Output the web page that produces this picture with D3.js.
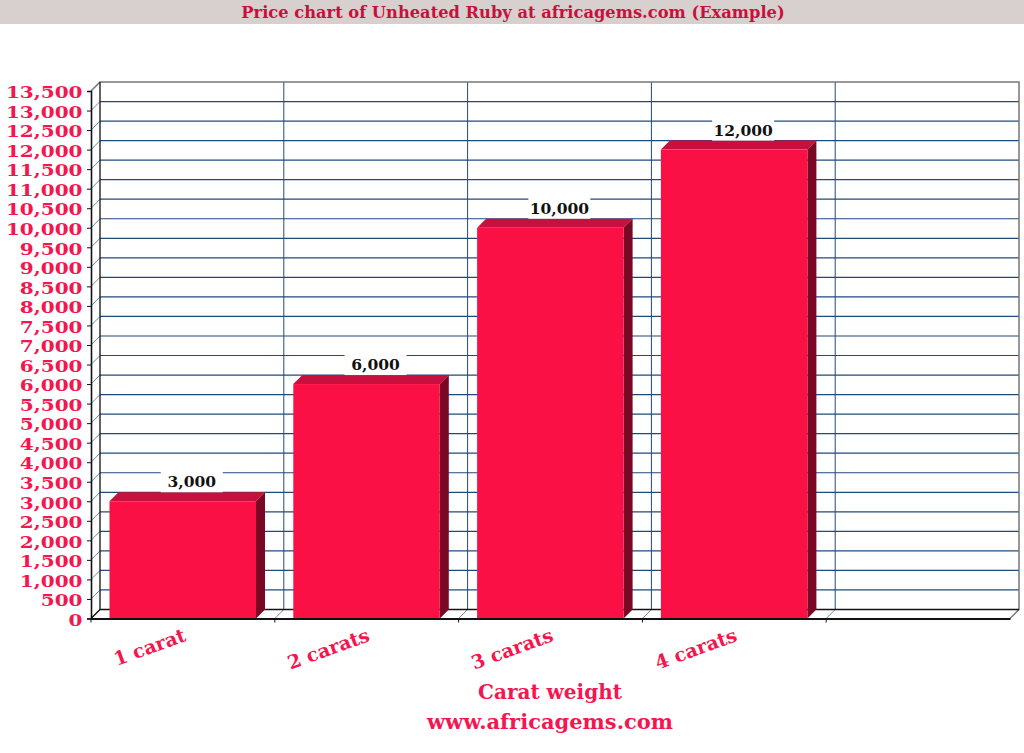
<!DOCTYPE html>
<html><head><meta charset="utf-8">
<script src="https://cdn.jsdelivr.net/npm/d3@7"></script>
<style>
html,body{margin:0;padding:0;background:#fff}
svg{display:block}
text{font-family:"DejaVu Serif","Liberation Serif",serif;font-weight:bold}
</style></head><body><svg id="c" width="1024" height="753"></svg>
<script>
const categories = ["1 carat","2 carats","3 carats","4 carats",""];
const prices = [3000,6000,10000,12000,null];
const yTicks = d3.range(0,13501,500);
const titleText = "Price chart of Unheated Ruby at africagems.com (Example)";
const xTitle = "Carat weight";
const xSubTitle = "www.africagems.com";

const svg = d3.select("#c");
const ruby="#fb1046", ink="#f5164f", grid="#1f4a7c";
const dx=9, dy=-9;
const x = d3.scaleBand().domain(categories).range([91,1010]);
const y = d3.scaleLinear().domain([0,13500]).range([618.5,91]);
const barInset = 18.5, barW = 146.5;

svg.append("rect").attr("width",1024).attr("height",24).attr("fill","#d8cfcf");
svg.append("text").attr("x",513).attr("y",18).attr("text-anchor","middle")
  .attr("font-size",16.3).attr("fill","#c8103c").text(titleText);

// back wall and floor
const wall = svg.append("g");
yTicks.forEach(v=>{
  wall.append("line").attr("x1",91).attr("x2",91+dx).attr("y1",y(v)).attr("y2",y(v)+dy)
    .attr("stroke","#6d8bab").attr("stroke-width",1);
  if(v>0 && v<13500) wall.append("line").attr("x1",91+dx).attr("x2",1010+dx)
    .attr("y1",y(v)+dy).attr("y2",y(v)+dy).attr("stroke",grid).attr("stroke-width",1.2);
});
categories.slice(1).forEach(c=>{
  const px=x(c);
  wall.append("line").attr("x1",px+dx).attr("x2",px+dx).attr("y1",y(13500)+dy).attr("y2",y(0)+dy)
    .attr("stroke",grid).attr("stroke-width",1);
  wall.append("line").attr("x1",px).attr("x2",px+dx).attr("y1",y(0)).attr("y2",y(0)+dy)
    .attr("stroke","#6d8bab");
});
wall.append("path").attr("fill","none").attr("stroke","#777").attr("stroke-width",1.5)
  .attr("d",`M${91} ${y(13500)}L${91+dx} ${y(13500)+dy}H${1010+dx}V${y(0)+dy}L${1010} ${y(0)}`);
wall.append("path").attr("fill","none").attr("stroke","#111").attr("stroke-width",1.3)
  .attr("d",`M${91+dx} ${y(13500)+dy}V${y(0)+dy}H${1010+dx}M${91+dx} ${y(0)+dy}L91 ${y(0)}`);

// bars
categories.forEach((c,i)=>{
  const v=prices[i]; if(v==null) return;
  const x0=x(c)+barInset, x1=x0+barW, t=y(v), b=y(0);
  const g=svg.append("g");
  g.append("path").attr("fill","#c80f3d").attr("d",`M${x0} ${t}L${x0+dx} ${t+dy}H${x1+dx}L${x1} ${t}Z`);
  g.append("path").attr("fill","#7a0824").attr("d",`M${x1} ${t}L${x1+dx} ${t+dy}V${b+dy}L${x1} ${b}Z`);
  g.append("rect").attr("x",x0).attr("y",t).attr("width",barW).attr("height",b-t).attr("fill",ruby);
  const cx=x0+barW/2+dx;
  g.append("rect").attr("x",cx-31).attr("y",t+dy-23).attr("width",62).attr("height",23).attr("fill","#fff");
  g.append("text").attr("x",cx).attr("y",t+dy-5).attr("text-anchor","middle")
    .attr("font-size",15.5).attr("fill","#111").text(d3.format(",")(v));
});

// axes
const ay = svg.append("g").attr("transform","translate(91,1.5)")
  .call(d3.axisLeft(y).tickValues(yTicks).tickSize(0).tickPadding(7).tickFormat(d3.format(",")));
ay.select(".domain").remove();
ay.selectAll(".tick line").remove();
ay.selectAll("text").attr("font-size",16.4).attr("fill",ink)
  .attr("transform","scale(1.22,1)")
  .attr("font-family",'"DejaVu Serif",serif').attr("font-weight","bold");
const ayLine = svg.append("g").attr("transform","translate(91,0)")
  .call(d3.axisLeft(y).tickValues(yTicks).tickSize(4).tickFormat(""));
ayLine.select(".domain").attr("stroke","#111").attr("stroke-width",1.6);
ayLine.selectAll(".tick line").attr("stroke","#111");

const ax = svg.append("g").attr("transform","translate(0,618.5)")
  .call(d3.axisBottom(x).tickSize(0).tickFormat(""));
ax.select(".domain").attr("stroke","#111").attr("stroke-width",1.8);
ax.selectAll(".tick").remove();
categories.forEach(c=>{
  const px=x(c);
  ax.append("line").attr("x1",px).attr("x2",px).attr("y1",0).attr("y2",4).attr("stroke","#111");
  if(c) ax.append("text").attr("text-anchor","end")
    .attr("transform",`translate(${px+96},22) rotate(-20)`)
    .attr("font-size",19).attr("fill",ink).text(c);
});

svg.append("text").attr("x",550).attr("y",699).attr("text-anchor","middle")
  .attr("font-size",20).attr("fill",ink).text(xTitle);
svg.append("text").attr("x",550).attr("y",729).attr("text-anchor","middle")
  .attr("font-size",21).attr("fill",ink).text(xSubTitle);
</script></body></html>
